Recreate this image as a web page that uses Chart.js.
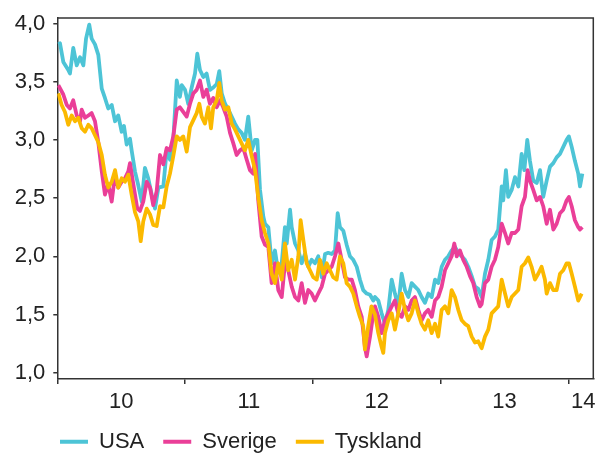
<!DOCTYPE html>
<html>
<head>
<meta charset="utf-8">
<script src="https://cdn.jsdelivr.net/npm/chart.js"></script>
<style>
  html, body { margin: 0; padding: 0; background: #fff; }
</style>
</head>
<body>
<canvas id="myChart" width="600" height="453"></canvas>
<script>
// 10-year yields, [year, percent]
const usa = [
  [2010.008,3.82],[2010.021,3.83],[2010.047,3.67],[2010.086,3.60],[2010.099,3.57],[2010.125,3.79],[2010.152,3.64],[2010.178,3.71],
  [2010.204,3.64],[2010.225,3.87],[2010.250,3.99],[2010.269,3.87],[2010.295,3.82],[2010.321,3.73],[2010.348,3.44],[2010.373,3.36],
  [2010.399,3.27],[2010.426,3.30],[2010.452,3.16],[2010.477,3.21],[2010.504,3.07],[2010.522,3.12],[2010.543,2.96],[2010.569,3.01],
  [2010.582,2.91],[2010.608,2.73],[2010.634,2.61],[2010.661,2.47],[2010.686,2.76],[2010.712,2.67],[2010.739,2.53],[2010.765,2.41],
  [2010.791,2.59],[2010.830,2.60],[2010.856,2.91],[2010.882,2.83],[2010.908,3.00],[2010.935,3.51],[2010.960,3.37],[2010.974,3.47],
  [2011.000,3.43],[2011.025,3.31],[2011.052,3.45],[2011.078,3.57],[2011.096,3.74],[2011.117,3.60],[2011.143,3.54],[2011.169,3.57],
  [2011.195,3.43],[2011.221,3.45],[2011.248,3.48],[2011.268,3.59],[2011.287,3.40],[2011.313,3.31],[2011.339,3.26],[2011.365,3.20],
  [2011.391,3.14],[2011.417,3.09],[2011.443,3.06],[2011.469,3.00],[2011.495,3.20],[2011.522,2.91],[2011.548,3.00],[2011.566,3.00],
  [2011.587,2.57],[2011.613,2.34],[2011.626,2.28],[2011.652,2.25],[2011.678,1.94],[2011.704,2.05],[2011.730,1.86],[2011.757,1.94],
  [2011.782,2.25],[2011.796,2.11],[2011.822,2.40],[2011.835,2.25],[2011.861,2.11],[2011.887,2.05],[2011.913,1.94],[2011.939,2.02],
  [2011.965,1.91],[2011.991,1.97],[2012.017,1.94],[2012.043,2.00],[2012.070,1.82],[2012.096,2.02],[2012.121,2.03],[2012.148,2.02],
  [2012.174,2.05],[2012.195,2.37],[2012.213,2.25],[2012.239,2.22],[2012.265,2.10],[2012.291,2.00],[2012.317,1.97],[2012.344,1.91],
  [2012.369,1.80],[2012.395,1.71],[2012.422,1.68],[2012.448,1.67],[2012.474,1.62],[2012.487,1.65],[2012.513,1.62],[2012.539,1.51],
  [2012.565,1.42],[2012.591,1.54],[2012.618,1.80],[2012.643,1.68],[2012.669,1.57],[2012.696,1.85],[2012.722,1.71],[2012.748,1.65],
  [2012.774,1.77],[2012.800,1.74],[2012.826,1.71],[2012.852,1.65],[2012.878,1.60],[2012.904,1.68],[2012.931,1.65],[2012.957,1.80],
  [2012.982,1.77],[2013.009,1.91],[2013.035,1.97],[2013.061,2.00],[2013.087,2.05],[2013.113,2.08],[2013.139,2.03],[2013.166,2.00],
  [2013.191,1.97],[2013.217,1.91],[2013.244,1.83],[2013.270,1.74],[2013.295,1.72],[2013.322,1.65],[2013.348,1.85],[2013.374,1.97],
  [2013.400,2.14],[2013.426,2.17],[2013.452,2.23],[2013.479,2.60],[2013.491,2.48],[2013.512,2.74],[2013.530,2.51],[2013.557,2.57],
  [2013.583,2.68],[2013.609,2.60],[2013.635,2.88],[2013.656,2.74],[2013.679,3.00],[2013.700,2.82],[2013.726,2.65],[2013.753,2.63],
  [2013.779,2.74],[2013.804,2.51],[2013.831,2.65],[2013.857,2.77],[2013.883,2.80],[2013.909,2.85],[2013.935,2.88],[2013.961,2.94],
  [2013.987,3.00],[2014.005,3.03],[2014.027,2.94],[2014.052,2.82],[2014.078,2.71],[2014.092,2.60],[2014.110,2.71]
];

const sverige = [
  [2010.008,3.47],[2010.047,3.39],[2010.074,3.30],[2010.099,3.27],[2010.125,3.34],[2010.152,3.21],[2010.178,3.16],[2010.191,3.26],
  [2010.217,3.19],[2010.243,3.21],[2010.269,3.23],[2010.295,3.16],[2010.321,2.98],[2010.348,2.73],[2010.373,2.53],[2010.399,2.62],
  [2010.426,2.47],[2010.452,2.70],[2010.477,2.59],[2010.504,2.64],[2010.530,2.67],[2010.556,2.73],[2010.569,2.80],[2010.595,2.62],
  [2010.626,2.41],[2010.647,2.39],[2010.673,2.47],[2010.700,2.64],[2010.726,2.59],[2010.751,2.44],[2010.778,2.56],[2010.804,2.87],
  [2010.830,2.79],[2010.856,2.93],[2010.882,2.91],[2010.908,3.03],[2010.935,3.26],[2010.960,3.28],[2010.986,3.24],[2011.013,3.20],
  [2011.039,3.31],[2011.065,3.40],[2011.091,3.43],[2011.117,3.51],[2011.143,3.37],[2011.169,3.43],[2011.195,3.31],[2011.221,3.36],
  [2011.248,3.28],[2011.274,3.34],[2011.299,3.28],[2011.326,3.20],[2011.352,3.06],[2011.378,2.97],[2011.404,2.87],[2011.430,2.91],
  [2011.456,2.93],[2011.483,2.83],[2011.508,2.74],[2011.534,2.71],[2011.548,2.88],[2011.573,2.48],[2011.600,2.17],[2011.626,2.10],
  [2011.652,2.08],[2011.678,1.77],[2011.704,1.94],[2011.730,1.71],[2011.757,1.65],[2011.782,1.94],[2011.808,1.88],[2011.835,1.74],
  [2011.861,1.65],[2011.887,1.62],[2011.913,1.77],[2011.939,1.60],[2011.965,1.71],[2011.991,1.68],[2012.017,1.62],[2012.043,1.68],
  [2012.070,1.74],[2012.096,1.85],[2012.121,1.88],[2012.148,1.91],[2012.174,2.00],[2012.200,2.11],[2012.226,1.97],[2012.252,1.82],
  [2012.278,1.80],[2012.305,1.80],[2012.330,1.71],[2012.356,1.57],[2012.383,1.48],[2012.408,1.22],[2012.422,1.14],[2012.448,1.31],
  [2012.474,1.51],[2012.487,1.57],[2012.513,1.48],[2012.539,1.34],[2012.565,1.45],[2012.591,1.51],[2012.618,1.57],[2012.643,1.62],
  [2012.669,1.51],[2012.696,1.48],[2012.722,1.57],[2012.748,1.54],[2012.774,1.62],[2012.800,1.65],[2012.826,1.54],[2012.852,1.45],
  [2012.878,1.51],[2012.904,1.54],[2012.931,1.48],[2012.957,1.62],[2012.982,1.65],[2013.009,1.74],[2013.035,1.88],[2013.061,1.94],
  [2013.087,2.00],[2013.108,2.11],[2013.127,2.00],[2013.152,2.05],[2013.178,1.97],[2013.205,1.91],[2013.231,1.83],[2013.256,1.77],
  [2013.283,1.65],[2013.309,1.57],[2013.322,1.59],[2013.348,1.77],[2013.374,1.80],[2013.400,1.91],[2013.426,1.97],[2013.452,2.08],
  [2013.479,2.28],[2013.505,2.20],[2013.530,2.11],[2013.557,2.20],[2013.583,2.20],[2013.609,2.23],[2013.635,2.43],[2013.661,2.51],
  [2013.682,2.74],[2013.700,2.65],[2013.726,2.57],[2013.753,2.48],[2013.779,2.51],[2013.804,2.43],[2013.831,2.28],[2013.857,2.40],
  [2013.883,2.23],[2013.909,2.28],[2013.935,2.37],[2013.961,2.40],[2013.987,2.48],[2014.005,2.51],[2014.027,2.43],[2014.052,2.31],
  [2014.078,2.25],[2014.092,2.23],[2014.110,2.25]
];

const tyskland = [
  [2010.008,3.40],[2010.034,3.30],[2010.060,3.24],[2010.086,3.13],[2010.113,3.21],[2010.139,3.16],[2010.164,3.19],[2010.191,3.10],
  [2010.217,3.07],[2010.243,3.13],[2010.269,3.10],[2010.295,3.04],[2010.321,2.98],[2010.348,2.87],[2010.373,2.70],[2010.399,2.59],
  [2010.426,2.64],[2010.452,2.74],[2010.477,2.59],[2010.504,2.67],[2010.530,2.64],[2010.556,2.70],[2010.582,2.53],[2010.608,2.38],
  [2010.634,2.30],[2010.653,2.13],[2010.673,2.30],[2010.700,2.41],[2010.726,2.36],[2010.751,2.27],[2010.778,2.26],[2010.804,2.43],
  [2010.830,2.42],[2010.856,2.60],[2010.882,2.71],[2010.908,2.86],[2010.935,3.03],[2010.960,3.00],[2010.986,3.03],[2011.013,2.90],
  [2011.039,3.11],[2011.065,3.17],[2011.091,3.23],[2011.112,3.31],[2011.130,3.20],[2011.156,3.14],[2011.182,3.28],[2011.203,3.10],
  [2011.221,3.28],[2011.248,3.34],[2011.268,3.49],[2011.287,3.34],[2011.313,3.26],[2011.339,3.28],[2011.365,3.14],[2011.391,3.09],
  [2011.417,3.03],[2011.443,2.97],[2011.469,2.91],[2011.495,3.00],[2011.522,2.86],[2011.548,2.74],[2011.573,2.51],[2011.600,2.31],
  [2011.626,2.20],[2011.652,2.11],[2011.678,1.85],[2011.704,1.77],[2011.730,1.94],[2011.757,1.80],[2011.782,2.11],[2011.808,1.88],
  [2011.835,1.97],[2011.861,1.80],[2011.887,2.00],[2011.905,2.31],[2011.926,2.14],[2011.952,1.94],[2011.978,1.88],[2012.004,1.82],
  [2012.031,1.80],[2012.056,1.97],[2012.082,1.85],[2012.109,1.94],[2012.135,1.88],[2012.160,1.82],[2012.187,1.80],[2012.213,2.00],
  [2012.239,1.94],[2012.265,1.77],[2012.291,1.74],[2012.317,1.68],[2012.344,1.57],[2012.369,1.48],[2012.395,1.40],[2012.408,1.20],
  [2012.434,1.40],[2012.459,1.57],[2012.487,1.50],[2012.513,1.34],[2012.526,1.28],[2012.539,1.22],[2012.552,1.17],[2012.565,1.34],
  [2012.591,1.45],[2012.618,1.51],[2012.643,1.37],[2012.669,1.51],[2012.696,1.68],[2012.722,1.54],[2012.748,1.45],[2012.774,1.51],
  [2012.800,1.62],[2012.826,1.51],[2012.852,1.42],[2012.878,1.37],[2012.904,1.45],[2012.931,1.34],[2012.957,1.42],[2012.982,1.31],
  [2013.009,1.54],[2013.035,1.57],[2013.061,1.51],[2013.087,1.71],[2013.113,1.65],[2013.139,1.54],[2013.166,1.45],[2013.191,1.42],
  [2013.217,1.40],[2013.244,1.31],[2013.270,1.26],[2013.295,1.27],[2013.322,1.21],[2013.348,1.31],[2013.374,1.37],[2013.400,1.51],
  [2013.426,1.54],[2013.452,1.57],[2013.479,1.80],[2013.505,1.68],[2013.530,1.57],[2013.557,1.65],[2013.583,1.68],[2013.609,1.71],
  [2013.635,1.91],[2013.661,1.94],[2013.687,1.99],[2013.713,1.91],[2013.739,1.80],[2013.765,1.85],[2013.791,1.91],[2013.817,1.80],
  [2013.831,1.68],[2013.857,1.77],[2013.883,1.71],[2013.909,1.71],[2013.935,1.85],[2013.961,1.88],[2013.987,1.94],[2014.005,1.94],
  [2014.027,1.85],[2014.052,1.74],[2014.078,1.62],[2014.105,1.68]
];

const yearTicks = [2010, 2011, 2012, 2013, 2014];
const labelTicks = [2010.5, 2011.5, 2012.5, 2013.5, 2014.117];
const xLabels = ['10', '11', '12', '13', '14'];
const yTicks = [1.0, 1.5, 2.0, 2.5, 3.0, 3.5, 4.0];

const toPoints = series => series.map(p => ({ x: p[0], y: p[1] }));

Chart.defaults.font.family = "'Liberation Sans', Arial, sans-serif";
Chart.defaults.color = '#222';

// top and right edges of the box around the plot
const framePlugin = {
  id: 'frame',
  afterDatasetsDraw(chart) {
    const { ctx, chartArea: a } = chart;
    ctx.save();
    ctx.strokeStyle = '#333';
    ctx.lineWidth = 1.5;
    ctx.beginPath();
    ctx.moveTo(a.left, a.top);
    ctx.lineTo(a.right, a.top);
    ctx.lineTo(a.right, a.bottom);
    ctx.stroke();
    ctx.restore();
  }
};

// legend starts under the plot's left edge, not at the canvas edge
const legendShift = {
  id: 'legendShift',
  afterLayout(chart) {
    chart.legend.left = 41;
  }
};

const lineStyle = { borderWidth: 3.8, pointRadius: 0, tension: 0, borderJoinStyle: 'round' };

new Chart(document.getElementById('myChart'), {
  type: 'line',
  data: {
    datasets: [
      { label: 'USA', data: toPoints(usa), borderColor: '#4dc4d6', backgroundColor: '#4dc4d6', order: 3, ...lineStyle },
      { label: 'Sverige', data: toPoints(sverige), borderColor: '#ea3f98', backgroundColor: '#ea3f98', order: 2, ...lineStyle },
      { label: 'Tyskland', data: toPoints(tyskland), borderColor: '#fbb900', backgroundColor: '#fbb900', order: 1, ...lineStyle }
    ]
  },
  plugins: [framePlugin, legendShift],
  options: {
    responsive: false,
    animation: false,
    events: [],
    layout: { autoPadding: false, padding: { left: 8, right: 6.7, top: 18, bottom: 0 } },
    scales: {
      x: {
        type: 'linear',
        min: 2010,
        max: 2014.196,
        afterBuildTicks: axis => {
          axis.ticks = yearTicks.concat(labelTicks).sort((a, b) => a - b).map(v => ({ value: v }));
        },
        afterFit: axis => {
          axis.height = 32.7;
          axis.paddingLeft = 0;
          axis.paddingRight = 0;
        },
        grid: {
          drawOnChartArea: false,
          tickLength: 5,
          lineWidth: 1.5,
          color: ctx => (ctx.tick && yearTicks.includes(ctx.tick.value)) ? '#333' : 'rgba(0,0,0,0)'
        },
        border: { color: '#333', width: 1.5 },
        ticks: {
          autoSkip: false,
          maxRotation: 0,
          padding: 4.5,
          font: { size: 22 },
          callback: value => {
            const i = labelTicks.indexOf(value);
            return i < 0 ? '' : xLabels[i];
          }
        }
      },
      y: {
        min: 0.946,
        max: 4.047,
        afterBuildTicks: axis => {
          axis.ticks = yTicks.map(v => ({ value: v }));
        },
        afterFit: axis => {
          axis.width = 49.3;
          axis.paddingTop = 0;
          axis.paddingBottom = 0;
        },
        grid: { drawOnChartArea: false, tickLength: 4, lineWidth: 1.5, color: '#333' },
        border: { color: '#333', width: 1.5 },
        ticks: {
          padding: 8,
          font: { size: 22 },
          callback: value => value.toFixed(1).replace('.', ',')
        }
      }
    },
    plugins: {
      tooltip: { enabled: false },
      legend: {
        position: 'bottom',
        align: 'start',
        maxHeight: 41.3,
        labels: {
          boxWidth: 28,
          boxHeight: 4,
          padding: 19,
          font: { size: 22 },
          sort: (a, b) => a.datasetIndex - b.datasetIndex,
          generateLabels: chart => Chart.defaults.plugins.legend.labels.generateLabels(chart)
            .map(item => Object.assign(item, { lineWidth: 0, fillStyle: item.strokeStyle }))
        }
      }
    }
  }
});
</script>
</body>
</html>
